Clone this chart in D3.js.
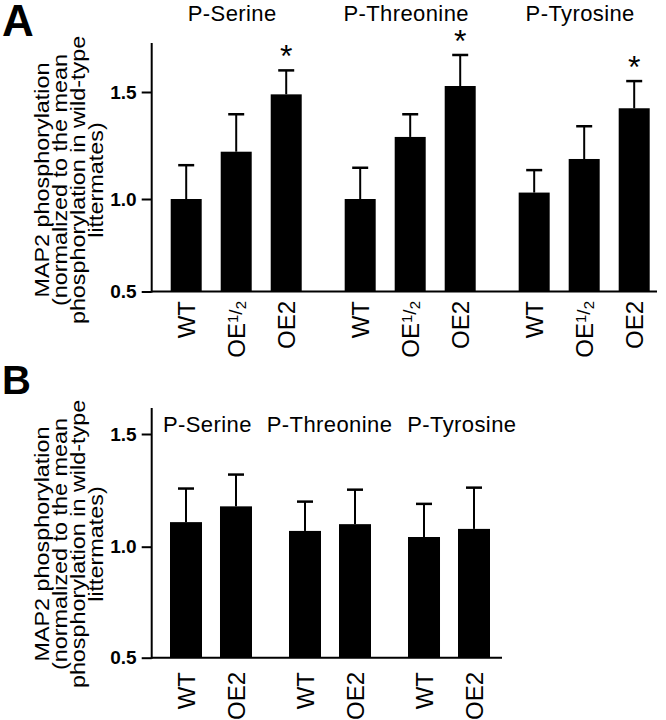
<!DOCTYPE html>
<html>
<head>
<meta charset="utf-8">
<script src="https://cdn.jsdelivr.net/npm/d3@7"></script>
<style>
  html, body { margin: 0; padding: 0; background: #fff; }
  svg { display: block; }
  text { font-family: "Liberation Sans", Arial, Helvetica, sans-serif; fill: #000; }
</style>
</head>
<body>
<svg id="chart" width="666" height="720"></svg>
<script>
// ---------- data ----------
const groups = ["P-Serine", "P-Threonine", "P-Tyrosine"];
const genotypesA = ["WT", "OE1/2", "OE2"];
const genotypesB = ["WT", "OE2"];

// Panel A means and error-bar tops (mean + SEM)
const meansA = [
  [1.00, 1.221, 1.489],   // P-Serine
  [1.00, 1.290, 1.528],   // P-Threonine
  [1.03, 1.187, 1.424]    // P-Tyrosine
];
const errTopA = [
  [1.158, 1.396, 1.601],
  [1.146, 1.396, 1.673],
  [1.135, 1.340, 1.551]
];
const sigA = [
  [false, false, true],
  [false, false, true],
  [false, false, true]
];

// Panel B
const meansB = [
  [1.109, 1.179],
  [1.070, 1.100],
  [1.043, 1.079]
];
const errTopB = [
  [1.258, 1.320],
  [1.200, 1.253],
  [1.190, 1.262]
];

const yTicks = [0.5, 1.0, 1.5];
const yTickLabels = ["0.5", "1.0", "1.5"];
const yTitleLines = [
  "MAP2 phosphorylation",
  "(normalized to the mean",
  "phosphorylation in wild-type",
  "littermates)"
];

// ---------- drawing ----------
const svg = d3.select("#chart");

function drawPanel(opt) {
  const g = svg.append("g");
  const y = d3.scaleLinear().domain(yTicks).range(opt.yRange);
  const x0 = d3.scaleBand().domain(groups).range(opt.xRange)
    .paddingInner(opt.outerPad).paddingOuter(0);
  const x1 = d3.scaleBand().domain(opt.genotypes).range([0, x0.bandwidth()])
    .paddingInner(opt.innerPad).paddingOuter(0);

  const axisX = opt.axisX;
  const y0 = y(0.5);

  // panel letter
  g.append("text").attr("x", 2).attr("y", opt.letterY)
    .style("font-weight", "bold").style("font-size", opt.letterSize + "px")
    .text(opt.letter);

  // y axis title (wide glyphs, as in the reference)
  const yt = g.append("text")
    .attr("transform", `translate(0,${opt.titleCY}) rotate(-90) scale(1.14,1)`)
    .attr("text-anchor", "middle")
    .style("font-size", "20.5px");
  yTitleLines.forEach((l, i) => {
    yt.append("tspan").attr("x", 0).attr("y", 49 + i * 18.1).text(l);
  });

  // y axis
  const axis = d3.axisLeft(y).tickValues(yTicks)
    .tickFormat((d, i) => yTickLabels[i]).tickSize(10).tickPadding(5);
  const ag = g.append("g").attr("transform", `translate(${axisX},0)`).call(axis);
  ag.select(".domain").remove();
  ag.selectAll(".tick line").attr("stroke", "#000").attr("stroke-width", 2);
  ag.selectAll(".tick text").style("font-size", "19px").style("font-weight", "bold")
    .attr("font-family", null);
  g.append("line").attr("x1", axisX).attr("x2", axisX)
    .attr("y1", opt.axisTop).attr("y2", y0 + 1)
    .attr("stroke", "#000").attr("stroke-width", 2);
  g.append("line").attr("x1", axisX).attr("x2", opt.baseEnd)
    .attr("y1", y0).attr("y2", y0)
    .attr("stroke", "#000").attr("stroke-width", 2);

  // group titles
  if (opt.titleRowX != null) {
    // a single row of titles, as in the reference panel B
    const tr = g.append("text").attr("x", opt.titleRowX).attr("y", opt.groupTitleY)
      .style("font-size", "22px").style("letter-spacing", "0.4px");
    groups.forEach((grp, gi) => {
      tr.append("tspan").attr("dx", gi === 0 ? 0 : 15).text(grp);
    });
  } else {
    groups.forEach(grp => {
      g.append("text")
        .attr("x", x0(grp) + x0.bandwidth() / 2 + opt.titleDx)
        .attr("y", opt.groupTitleY)
        .attr("text-anchor", "middle")
        .style("font-size", "22px").style("letter-spacing", "0.4px")
        .text(grp);
    });
  }

  groups.forEach((grp, gi) => {
    const gx = x0(grp);
    opt.genotypes.forEach((gt, bi) => {
      const bx = gx + x1(gt);
      const bw = x1.bandwidth();
      const cx = bx + bw / 2;
      const m = opt.means[gi][bi];
      const e = opt.errTop[gi][bi];
      // error bar (upper only)
      g.append("line").attr("x1", cx).attr("x2", cx)
        .attr("y1", y(m)).attr("y2", y(e))
        .attr("stroke", "#000").attr("stroke-width", 2);
      g.append("line").attr("x1", cx - 8).attr("x2", cx + 8)
        .attr("y1", y(e)).attr("y2", y(e))
        .attr("stroke", "#000").attr("stroke-width", 2.5);
      // bar
      g.append("rect").attr("x", bx).attr("width", bw)
        .attr("y", y(m)).attr("height", y0 - y(m))
        .attr("fill", "#000");
      // significance
      if (opt.sig && opt.sig[gi][bi]) {
        g.append("text").attr("x", cx).attr("y", y(e) - 3)
          .attr("text-anchor", "middle").style("font-size", "32px").text("*");
      }
      // x label
      const t = g.append("text")
        .attr("transform", `translate(${cx},${opt.labelTop}) rotate(-90)`)
        .attr("text-anchor", "end").attr("dy", "0.36em")
        .style("font-size", "24px");
      if (gt === "OE1/2") {
        t.append("tspan").text("OE");
        t.append("tspan").style("font-size", "15px").attr("dy", "-0.45em").text("1");
        t.append("tspan").style("font-size", "19px").attr("dy", "0.2em").text("/");
        t.append("tspan").style("font-size", "15px").attr("dy", "0.25em").text("2");
      } else {
        t.text(gt);
      }
    });
  });
}

drawPanel({
  letter: "A", letterY: 36, letterSize: 44,
  yRange: [291.5, 199, 92], xRange: [170.7, 649.7],
  outerPad: 0.247, innerPad: 0.38, genotypes: genotypesA,
  means: meansA, errTop: errTopA, sig: sigA,
  axisX: 151.7, axisTop: 43, baseEnd: 657,
  titleCY: 180, groupTitleY: 21, titleDx: -4, titleRowX: null, labelTop: 301
});

drawPanel({
  letter: "B", letterY: 394, letterSize: 40,
  yRange: [657.7, 546.7, 434], xRange: [170, 490],
  outerPad: 0.311, innerPad: 0.36, genotypes: genotypesB,
  means: meansB, errTop: errTopB, sig: null,
  axisX: 151.7, axisTop: 408, baseEnd: 502,
  titleCY: 544, groupTitleY: 432, titleDx: 0, titleRowX: 163, labelTop: 672
});
</script>
</body>
</html>
